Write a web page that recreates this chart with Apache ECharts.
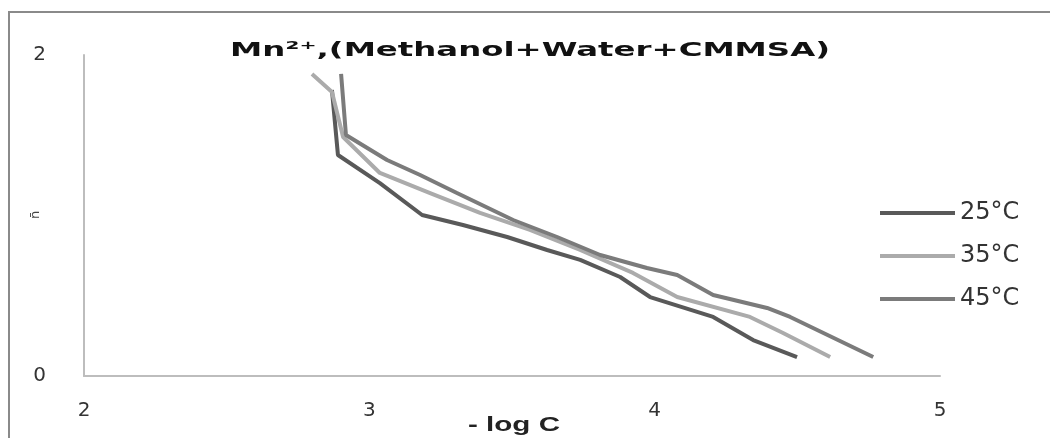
<!DOCTYPE html>
<html>
<head>
<meta charset="utf-8">
<script src="https://cdn.jsdelivr.net/npm/echarts@6/dist/echarts.min.js"></script>
<style>
  html, body { margin: 0; padding: 0; background: #fff; }
  #chart { width: 1050px; height: 438px; }
</style>
</head>
<body>
<div id="chart"></div>
<script>
// -log C vs n-bar
const seriesNames = ["25°C", "35°C", "45°C"];

const logC25 = [2.869, 2.890, 3.037, 3.185, 3.328, 3.483, 3.623, 3.739, 3.879, 3.984, 4.205, 4.345, 4.499];
const nBar25 = [1.782, 1.377, 1.202, 1.003, 0.941, 0.866, 0.785, 0.723, 0.617, 0.492, 0.368, 0.224, 0.118];

const logC35 = [2.799, 2.869, 2.908, 3.037, 3.213, 3.388, 3.563, 3.739, 3.924, 4.079, 4.334, 4.450, 4.615];
const nBar35 = [1.882, 1.769, 1.489, 1.265, 1.140, 1.016, 0.910, 0.785, 0.642, 0.492, 0.368, 0.268, 0.118];

const logC45 = [2.901, 2.918, 3.062, 3.178, 3.307, 3.504, 3.658, 3.809, 3.973, 4.079, 4.205, 4.394, 4.475, 4.766];
const nBar45 = [1.882, 1.502, 1.346, 1.252, 1.140, 0.972, 0.866, 0.754, 0.673, 0.629, 0.505, 0.424, 0.368, 0.118];

const titleText = "Mn²⁺,(Methanol+Water+CMMSA)";
const xName = "- log C";
const yName = "n̄";

const colors = ["#595959", "#ababab", "#7b7b7b"];

function pairs(xs, ys) {
  return xs.map((x, i) => [x, ys[i]]);
}

// the original text is stretched sideways, so work out a horizontal scale
const ctx = document.createElement("canvas").getContext("2d");
function stretch(text, font, target) {
  ctx.font = font;
  return target / ctx.measureText(text).width;
}
const titleFont = "bold 20px 'DejaVu Sans'";
const nameFont = "bold 20px 'Liberation Sans'";

const chart = echarts.init(document.getElementById("chart"));

chart.setOption({
  animation: false,
  color: colors,
  legend: {
    orient: "vertical",
    left: 880,
    top: 201,
    padding: 0,
    itemWidth: 75,
    itemHeight: 4,
    itemGap: 19,
    icon: "rect",
    textStyle: { fontFamily: "DejaVu Sans", fontSize: 24, color: "#333" },
    data: seriesNames
  },
  grid: { left: 84, right: 110, top: 55, bottom: 62 },
  xAxis: {
    type: "value",
    min: 2,
    max: 5,
    interval: 1,
    axisLine: { lineStyle: { color: "#bdbdbd", width: 2 } },
    axisTick: { show: false },
    splitLine: { show: false },
    axisLabel: { margin: 25, fontFamily: "DejaVu Sans", fontSize: 20, color: "#333" }
  },
  yAxis: {
    type: "value",
    min: 0,
    max: 2,
    interval: 2,
    axisLine: { show: true, lineStyle: { color: "#bdbdbd", width: 2 } },
    axisTick: { show: false },
    splitLine: { show: false },
    axisLabel: { margin: 38, fontFamily: "DejaVu Sans", fontSize: 20, color: "#333" }
  },
  graphic: [
    {
      type: "rect",
      shape: { x: 9, y: 12, width: 1100, height: 500 },
      style: { fill: "none", stroke: "#8a8a8a", lineWidth: 2 },
      silent: true
    },
    {
      type: "text",
      x: 530,
      y: 51,
      scaleX: stretch(titleText, titleFont, 600),
      style: {
        text: titleText, font: titleFont, fill: "#111",
        textAlign: "center", textVerticalAlign: "middle"
      }
    },
    {
      type: "text",
      x: 514,
      y: 425,
      scaleX: stretch(xName, nameFont, 92),
      style: {
        text: xName, font: nameFont, fill: "#222",
        textAlign: "center", textVerticalAlign: "middle"
      }
    },
    {
      type: "text",
      x: 36,
      y: 215,
      rotation: Math.PI / 2,
      style: {
        text: yName, fontFamily: "DejaVu Sans", fontSize: 13, fill: "#444",
        textAlign: "center", textVerticalAlign: "middle"
      }
    }
  ],
  series: [
    { name: seriesNames[0], type: "line", data: pairs(logC25, nBar25), showSymbol: false, lineStyle: { width: 4 } },
    { name: seriesNames[1], type: "line", data: pairs(logC35, nBar35), showSymbol: false, lineStyle: { width: 4 } },
    { name: seriesNames[2], type: "line", data: pairs(logC45, nBar45), showSymbol: false, lineStyle: { width: 4 } }
  ]
});
</script>
</body>
</html>
